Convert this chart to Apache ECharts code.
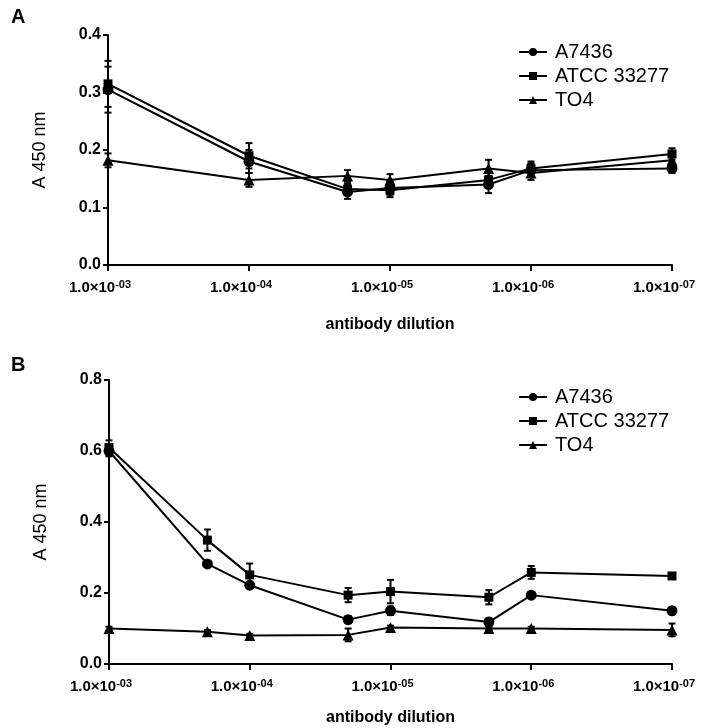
<!DOCTYPE html>
<html><head><meta charset="utf-8">
<script src="https://cdn.jsdelivr.net/npm/echarts@6/dist/echarts.min.js"></script>
<style>html,body{margin:0;padding:0;background:#fff}#c{width:708px;height:728px}</style>
</head><body><div id="c"></div>
<script>
// Panel A
const dilutionsA = [1e-3, 1e-4, 2e-5, 1e-5, 2e-6, 1e-6, 1e-7];
const a_A7436 = [0.305, 0.180, 0.127, 0.134, 0.140, 0.165, 0.168];
const a_ATCC  = [0.315, 0.190, 0.132, 0.130, 0.148, 0.168, 0.193];
const a_TO4   = [0.182, 0.148, 0.155, 0.148, 0.168, 0.160, 0.182];
const aErr_A7436 = [0.040, 0.020, 0.012, 0.012, 0.015, 0.012, 0.008];
const aErr_ATCC  = [0.040, 0.022, 0.010, 0.012, 0.012, 0.012, 0.010];
const aErr_TO4   = [0.012, 0.012, 0.010, 0.010, 0.015, 0.012, 0.010];
// Panel B
const dilutionsB = [1e-3, 2e-4, 1e-4, 2e-5, 1e-5, 2e-6, 1e-6, 1e-7];
const b_A7436 = [0.600, 0.282, 0.222, 0.125, 0.150, 0.118, 0.194, 0.150];
const b_ATCC  = [0.610, 0.349, 0.251, 0.194, 0.204, 0.188, 0.258, 0.248];
const b_TO4   = [0.100, 0.091, 0.080, 0.082, 0.103, 0.100, 0.100, 0.096];
const bErr_A7436 = [0.015, 0.008, 0.008, 0.010, 0.012, 0.010, 0.008, 0.008];
const bErr_ATCC  = [0.020, 0.030, 0.032, 0.020, 0.033, 0.020, 0.018, 0.005];
const bErr_TO4   = [0.005, 0.005, 0.005, 0.018, 0.005, 0.005, 0.005, 0.018];

const seriesNames = ['A7436', 'ATCC 33277', 'TO4'];
const symbols = ['circle', 'rect', 'triangle'];
const symSizes = [11, 9, 11];
const yTicksA = {min: 0, max: 0.4, interval: 0.1};
const yTicksB = {min: 0, max: 0.8, interval: 0.2};

const chart = echarts.init(document.getElementById('c'));
const pair = (xs, ys) => xs.map((x, i) => [x, ys[i]]);
const errData = (xs, ys, es) => xs.map((x, i) => [x, ys[i] - es[i], ys[i] + es[i]]);

function errSeries(gi, xs, ys, es) {
  return {
    type: 'custom', xAxisIndex: gi, yAxisIndex: gi, silent: true, z: 3,
    data: errData(xs, ys, es),
    renderItem: function (params, api) {
      const x = api.value(0);
      const lo = api.coord([x, api.value(1)]);
      const hi = api.coord([x, api.value(2)]);
      const w = 3.5;
      const st = {stroke: '#000', lineWidth: 2};
      return {type: 'group', children: [
        {type: 'line', shape: {x1: lo[0], y1: lo[1], x2: hi[0], y2: hi[1]}, style: st},
        {type: 'line', shape: {x1: lo[0] - w, y1: lo[1], x2: lo[0] + w, y2: lo[1]}, style: st},
        {type: 'line', shape: {x1: hi[0] - w, y1: hi[1], x2: hi[0] + w, y2: hi[1]}, style: st}
      ]};
    }
  };
}
function lineSeries(gi, k, xs, ys) {
  return {
    name: seriesNames[k], type: 'line', xAxisIndex: gi, yAxisIndex: gi, z: 4,
    data: pair(xs, ys), symbol: symbols[k], symbolSize: symSizes[k],
    showAllSymbol: true,
    lineStyle: {color: '#000', width: 2}, itemStyle: {color: '#000'},
    emphasis: {disabled: true}, animation: false
  };
}

const xLabelFmt = v => {
  const e = Math.round(Math.log10(v));
  const s = (e < 0 ? '-' : '') + String(Math.abs(e)).padStart(2, '0');
  return '1.0\u00d710{s|' + s + '}';
};
function xAxis(gi) {
  return {
    type: 'log', logBase: 10, gridIndex: gi, min: 1e-7, max: 1e-3, inverse: true,
    name: 'antibody dilution', nameLocation: 'middle', nameGap: gi === 0 ? 52 : 46,
    nameTextStyle: {fontFamily: 'Liberation Sans', fontWeight: 'bold', fontSize: 16, color: '#000'},
    axisLine: {show: true, lineStyle: {color: '#000', width: 2}},
    axisTick: {show: true, length: 6, lineStyle: {color: '#000', width: 2}},
    minorTick: {show: false}, splitLine: {show: false},
    axisLabel: {
      formatter: xLabelFmt, margin: 14, color: '#000', padding: [0, 16, 0, 0],
      fontFamily: 'Liberation Sans', fontWeight: 'bold', fontSize: 15,
      rich: {s: {fontSize: 11, fontWeight: 'bold', verticalAlign: 'top', padding: [0, 0, 6, 0], fontFamily: 'Liberation Sans', color: '#000'}}
    }
  };
}
function yAxis(gi, t) {
  return {
    type: 'value', gridIndex: gi, min: t.min, max: t.max, interval: t.interval,
    name: 'A 450 nm', nameLocation: 'middle', nameGap: 59, nameRotate: 90,
    nameTextStyle: {fontFamily: 'Liberation Sans', fontSize: 18, color: '#000'},
    axisLine: {show: true, lineStyle: {color: '#000', width: 2}},
    axisTick: {show: true, length: 5, lineStyle: {color: '#000', width: 2}},
    splitLine: {show: false},
    axisLabel: {formatter: v => v.toFixed(1), margin: 7, color: '#000',
      fontFamily: 'Liberation Sans', fontWeight: 'bold', fontSize: 16}
  };
}
function legend(top) {
  return {
    data: seriesNames, orient: 'vertical', left: 513, top: top, itemGap: 4,
    itemWidth: 28, itemHeight: 10, selectedMode: false,
    textStyle: {fontFamily: 'Liberation Sans', fontSize: 20, color: '#000', padding: [0, 0, 0, 3]}
  };
}

const option = {
  animation: false,
  title: [
    {text: 'A', left: 6, top: 2, textStyle: {fontFamily: 'Liberation Sans', fontWeight: 'bold', fontSize: 20, color: '#000'}},
    {text: 'B', left: 6, top: 350, textStyle: {fontFamily: 'Liberation Sans', fontWeight: 'bold', fontSize: 20, color: '#000'}}
  ],
  legend: [legend(37), legend(382)],
  grid: [
    {left: 108, top: 35, width: 564, height: 230},
    {left: 109, top: 380, width: 563, height: 284}
  ],
  xAxis: [xAxis(0), xAxis(1)],
  yAxis: [yAxis(0, yTicksA), yAxis(1, yTicksB)],
  series: [
    errSeries(0, dilutionsA, a_A7436, aErr_A7436),
    errSeries(0, dilutionsA, a_ATCC, aErr_ATCC),
    errSeries(0, dilutionsA, a_TO4, aErr_TO4),
    lineSeries(0, 0, dilutionsA, a_A7436),
    lineSeries(0, 1, dilutionsA, a_ATCC),
    lineSeries(0, 2, dilutionsA, a_TO4),
    errSeries(1, dilutionsB, b_A7436, bErr_A7436),
    errSeries(1, dilutionsB, b_ATCC, bErr_ATCC),
    errSeries(1, dilutionsB, b_TO4, bErr_TO4),
    lineSeries(1, 0, dilutionsB, b_A7436),
    lineSeries(1, 1, dilutionsB, b_ATCC),
    lineSeries(1, 2, dilutionsB, b_TO4)
  ]
};
chart.setOption(option);
</script></body></html>
